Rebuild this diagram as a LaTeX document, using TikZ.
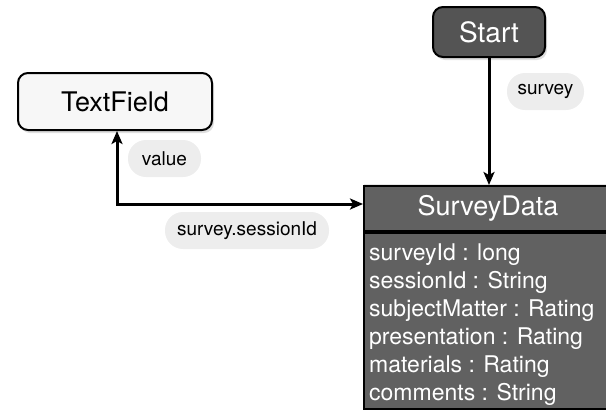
\documentclass[tikz,border=0pt]{standalone}
\usepackage{fontspec}
\setmainfont{TeX Gyre Heros}
\usetikzlibrary{shadows,arrows.meta}
\begin{document}
\begin{tikzpicture}[x=1pt,y=-1pt,
  box/.style={draw=black,line width=2pt,rounded corners=10pt,inner sep=0pt,
    drop shadow={shadow xshift=2pt,shadow yshift=-3pt,opacity=0.25}},
  dark/.style={box,fill=black!67,text=white},
  light/.style={box,fill=black!3,text=black},
  pill/.style={fill=black!7,rounded corners=18pt,minimum height=37pt,inner sep=0pt,
    font=\fontsize{19}{22}\selectfont},
  hdr/.style={draw=black,line width=2pt,fill=black!62,text=white,inner sep=0pt,
    minimum width=248pt,minimum height=45pt,font=\fontsize{27}{32}\selectfont,
    drop shadow={shadow xshift=0pt,shadow yshift=2pt,opacity=0.2}},
  bodybox/.style={draw=black,line width=2pt,fill=black!62,inner sep=0pt,
    minimum width=248pt,minimum height=176pt},
  tip/.tip={Stealth[length=13pt,width=11pt,inset=3pt]},
  conn/.style={line width=3pt,-tip},
  conn2/.style={line width=3pt,tip-tip}
]
\useasboundingbox (0,0) rectangle (606,416);
\clip (0,0) rectangle (606,416);
\node[dark,minimum width=112pt,minimum height=50pt,font=\fontsize{28}{33}\selectfont] (start) at (489,32) {Start};
\node[light,minimum width=194pt,minimum height=57pt,font=\fontsize{27}{32}\selectfont] (tf) at (115,101.5) {TextField};
\node[hdr] (sd) at (488,208.5) {SurveyData};
\node[bodybox,anchor=north] (sdb) at (sd.south) {};
\node[anchor=north west,inner sep=0pt,align=left,text=white,
  font=\fontsize{23}{28}\selectfont] (attrs) at (369,244)
  {surveyId : long\\sessionId : String\\subjectMatter : Rating\\presentation : Rating\\materials : Rating\\comments : String};
\node[pill,minimum width=77pt] (lsurvey) at (545.5,91.5) {survey};
\node[pill,minimum width=73pt] (lvalue) at (164.5,158.5) {value};
\node[pill,minimum width=164pt] (lsid) at (247,230.5) {survey.sessionId};
\coordinate (sdin) at ([yshift=4.5pt]sd.west);
\draw[conn] (start.south) -- (start.south |- sd.north);
\draw[conn2] (tf.south -| 117,0) |- (sdin);
\end{tikzpicture}
\end{document}
